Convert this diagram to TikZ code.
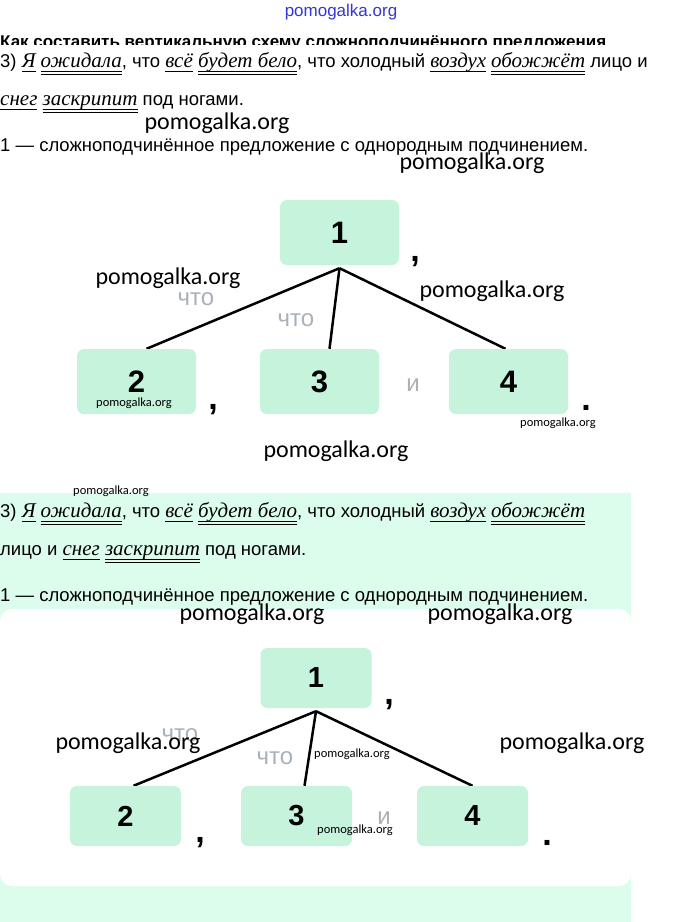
\documentclass[tikz,border=0pt]{standalone}
\usepackage{fontspec}
\setmainfont{Liberation Sans}
\newfontfamily\serifit{Liberation Serif}
\newfontfamily\wmfont{Carlito}
\usetikzlibrary{backgrounds}
\pgfdeclarelayer{bglayer}
\pgfdeclarelayer{edgelayer}
\pgfdeclarelayer{nodelayer}
\pgfsetlayers{bglayer,edgelayer,nodelayer,main}
\definecolor{boxgreen}{HTML}{C5F3DC}
\definecolor{panelgreen}{HTML}{DCFDEB}
\definecolor{greytext}{HTML}{A9B1B9}
\definecolor{wmblue}{HTML}{3535D8}
\newsavebox{\wordbox}
\newcommand{\subj}[1]{\sbox{\wordbox}{\fontsize{21}{21}\serifit\itshape #1}%
  \rlap{\rule[-5pt]{\wd\wordbox}{0.8pt}}\usebox{\wordbox}}
\newcommand{\pred}[1]{\sbox{\wordbox}{\fontsize{21}{21}\serifit\itshape #1}%
  \rlap{\rule[-5pt]{\wd\wordbox}{0.8pt}}\rlap{\rule[-8pt]{\wd\wordbox}{0.8pt}}\usebox{\wordbox}}
\tikzstyle{none}=[inner sep=0pt]
\tikzstyle{txt}=[inner sep=0pt,anchor=base west,font=\fontsize{18.5}{18.5}\selectfont]
\tikzstyle{part}=[rectangle,rounded corners=7pt,fill=boxgreen,minimum width=119pt,minimum height=65pt,font=\fontsize{31}{31}\selectfont\bfseries]
\tikzstyle{partb}=[part,minimum width=111pt,minimum height=60pt,font=\fontsize{29}{29}\selectfont\bfseries]
\tikzstyle{conj}=[inner sep=0pt,text=greytext,font=\fontsize{24}{24}\selectfont]
\tikzstyle{punct}=[inner sep=0pt,font=\fontsize{34}{34}\selectfont\bfseries]
\tikzstyle{wmbig}=[inner sep=0pt,font=\wmfont\fontsize{24}{24}\selectfont]
\tikzstyle{wmsmall}=[inner sep=0pt,font=\wmfont\fontsize{12.5}{12.5}\selectfont]
\tikzstyle{link}=[line width=2.5pt]

\begin{document}
\begin{tikzpicture}[x=1pt,y=-1pt]
	\useasboundingbox (0,0) rectangle (680,922);
	\begin{pgfonlayer}{bglayer}
		\fill[white] (0,0) rectangle (680,922);
		\fill[panelgreen] (0,493) rectangle (631,922);
		\fill[white,rounded corners=12pt] (0,609) rectangle (631,886);
	\end{pgfonlayer}
	% top of page
	\node [style=none,text=wmblue,font=\fontsize{17}{17}\selectfont] (w0) at (341,12) {pomogalka.org};
	\begin{scope}
		\clip (0,28) rectangle (680,44);
		\node [style=txt,font=\fontsize{17}{17}\selectfont\bfseries] (h0) at (0,47) {Как составить вертикальную схему сложноподчинённого предложения};
	\end{scope}
	\node [style=txt] (t1) at (0,67) {3) \subj{Я} \pred{ожидала}, что \subj{всё} \pred{будет бело}, что холодный \subj{воздух} \pred{обожжёт} лицо и};
	\node [style=txt] (t2) at (0,105) {\subj{снег} \pred{заскрипит} под ногами.};
	\node [style=txt] (t3) at (0,151) {1 — сложноподчинённое предложение с однородным подчинением.};
	% first scheme
	\begin{pgfonlayer}{nodelayer}
		\node [style=part] (a1) at (339.5,232.5) {1};
		\node [style=part] (a2) at (136.5,381.5) {2};
		\node [style=part] (a3) at (319.5,381.5) {3};
		\node [style=part] (a4) at (508.5,381.5) {4};
	\end{pgfonlayer}
	\begin{pgfonlayer}{edgelayer}
		\draw [style=link] ([yshift=-3pt]a1.south) -- ([xshift=10pt]a2.north);
		\draw [style=link] ([yshift=-3pt]a1.south) -- ([xshift=10pt]a3.north);
		\draw [style=link] ([yshift=-3pt]a1.south) -- ([xshift=-3pt]a4.north);
	\end{pgfonlayer}
	\node [style=conj] (c1) at (196,299) {что};
	\node [style=conj] (c2) at (296,320) {что};
	\node [style=conj] (c3) at (413,385) {и};
	\node [style=punct] (p1) at (415,262) {,};
	\node [style=punct] (p2) at (213,410) {,};
	\node [style=punct] (p3) at (586,408) {.};
	% second copy
	\node [style=txt] (s1) at (0,517) {3) \subj{Я} \pred{ожидала}, что \subj{всё} \pred{будет бело}, что холодный \subj{воздух} \pred{обожжёт}};
	\node [style=txt] (s2) at (0,555) {лицо и \subj{снег} \pred{заскрипит} под ногами.};
	\node [style=txt] (s3) at (0,601) {1 — сложноподчинённое предложение с однородным подчинением.};
	\begin{pgfonlayer}{nodelayer}
		\node [style=partb] (b1) at (316,678) {1};
		\node [style=partb] (b2) at (125.5,816) {2};
		\node [style=partb] (b3) at (296.5,816) {3};
		\node [style=partb] (b4) at (472.5,816) {4};
	\end{pgfonlayer}
	\begin{pgfonlayer}{edgelayer}
		\draw [style=link] ([yshift=-3pt]b1.south) -- ([xshift=8pt]b2.north);
		\draw [style=link] ([yshift=-3pt]b1.south) -- ([xshift=8pt]b3.north);
		\draw [style=link] ([yshift=-3pt]b1.south) -- (b4.north);
	\end{pgfonlayer}
	\node [style=conj] (d1) at (180,735) {что};
	\node [style=conj] (d2) at (275,758) {что};
	\node [style=conj] (d3) at (384,818) {и};
	\node [style=punct] (q1) at (389,705) {,};
	\node [style=punct] (q2) at (200,843) {,};
	\node [style=punct] (q3) at (547,843) {.};
	% watermarks
	\node [style=wmbig] (w1) at (217,123) {pomogalka.org};
	\node [style=wmbig] (w2) at (472,163) {pomogalka.org};
	\node [style=wmbig] (w3) at (168,278) {pomogalka.org};
	\node [style=wmbig] (w4) at (492,291) {pomogalka.org};
	\node [style=wmsmall] (w5) at (134,403) {pomogalka.org};
	\node [style=wmsmall] (w6) at (558,423) {pomogalka.org};
	\node [style=wmbig] (w7) at (336,451) {pomogalka.org};
	\node [style=wmsmall] (w8) at (111,491) {pomogalka.org};
	\node [style=wmbig] (w9) at (252,614) {pomogalka.org};
	\node [style=wmbig] (w10) at (500,614) {pomogalka.org};
	\node [style=wmbig] (w11) at (128,743) {pomogalka.org};
	\node [style=wmbig] (w12) at (572,743) {pomogalka.org};
	\node [style=wmsmall] (w13) at (352,754) {pomogalka.org};
	\node [style=wmsmall] (w14) at (355,830) {pomogalka.org};
\end{tikzpicture}
\end{document}
